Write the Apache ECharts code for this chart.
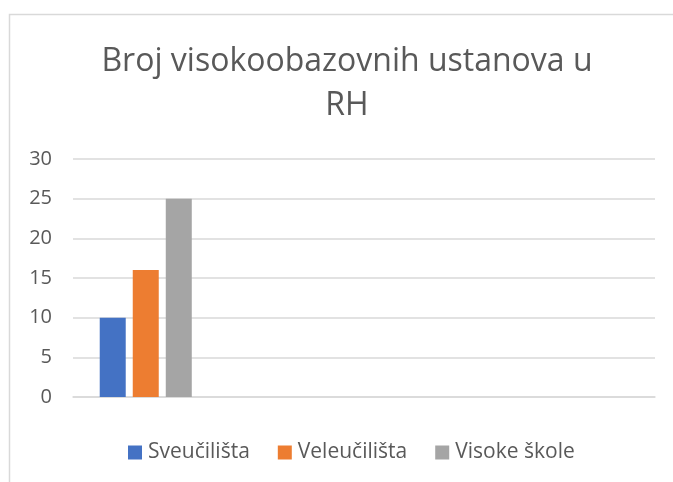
<!DOCTYPE html>
<html lang="hr">

<head>
    <meta charset="UTF-8">
    <title>Broj visokoobazovnih ustanova u RH</title>
    <style>
        html, body {
            margin: 0;
            padding: 0;
            background: #fff;
        }
        #main {
            width: 673px;
            height: 482px;
        }
    </style>
</head>

<body>
    <div id="main"></div>
    <script src="https://cdn.jsdelivr.net/npm/echarts@6/dist/echarts.min.js"></script>
    <script>
        // Excel chart has 4 rows, only the first one is filled
        let categories = ['', '', '', ''];
        let seriesNames = ['Sveučilišta', 'Veleučilišta', 'Visoke škole'];
        let sveucilista = [10, null, null, null];
        let veleucilista = [16, null, null, null];
        let visokeSkole = [25, null, null, null];
        let colors = ['#4472c4', '#ed7d31', '#a5a5a5'];

        let textColor = '#595959';
        let lineColor = '#d9d9d9';
        let font = '"Open Sans", "DejaVu Sans", sans-serif';

        var myChart = echarts.init(document.getElementById('main'));

        let values = [sveucilista, veleucilista, visokeSkole];
        let series = seriesNames.map((name, i) => {
            return {
                name: name,
                type: 'bar',
                data: values[i],
                barWidth: 26,
                barGap: '27%',
                itemStyle: {
                    color: colors[i]
                }
            }
        });

        option = {
            animation: false,
            color: colors,
            textStyle: {
                fontFamily: font
            },
            title: {
                text: 'Broj visokoobazovnih ustanova u\nRH',
                // the title sits a bit right of the middle in the original
                left: 347,
                textAlign: 'center',
                top: 40,
                padding: 0,
                textStyle: {
                    color: textColor,
                    fontFamily: font,
                    fontSize: 32,
                    fontWeight: 'normal',
                    lineHeight: 44
                }
            },
            legend: {
                left: 123,
                top: 437,
                itemWidth: 14,
                itemHeight: 14,
                itemGap: 28,
                icon: 'rect',
                textStyle: {
                    color: textColor,
                    fontFamily: font,
                    fontSize: 21,
                    padding: [0, 0, 0, 1]
                },
                data: seriesNames
            },
            grid: {
                left: 73,
                right: 18,
                top: 159,
                bottom: 85
            },
            xAxis: {
                type: 'category',
                data: categories,
                axisLine: {
                    show: true,
                    lineStyle: {
                        color: lineColor,
                        width: 1.5
                    }
                },
                axisTick: {
                    show: false
                },
                axisLabel: {
                    show: false
                }
            },
            yAxis: {
                type: 'value',
                min: 0,
                max: 30,
                interval: 5,
                axisLine: {
                    show: false
                },
                axisTick: {
                    show: false
                },
                axisLabel: {
                    color: textColor,
                    fontFamily: font,
                    fontSize: 20,
                    margin: 21
                },
                splitLine: {
                    lineStyle: {
                        color: lineColor,
                        width: 1.5
                    }
                }
            },
            graphic: [{
                type: 'polyline',
                shape: {
                    points: [[9.5, 482], [9.5, 14.5], [673, 14.5]]
                },
                style: {
                    stroke: lineColor,
                    lineWidth: 1.5,
                    fill: null
                }
            }],
            series: series
        };
        myChart.setOption(option);
    </script>

</body>

</html>
